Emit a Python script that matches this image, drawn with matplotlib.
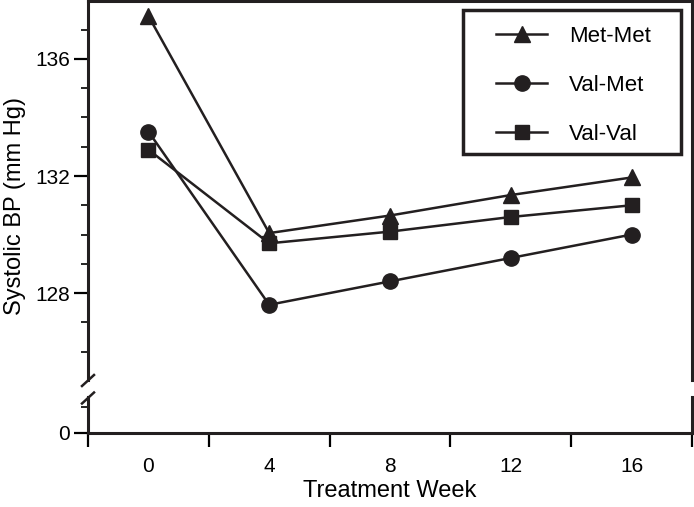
import matplotlib
matplotlib.use('Agg')
from matplotlib import pyplot as plt
from matplotlib.lines import Line2D
from matplotlib.patches import Rectangle

plt.rcParams['font.family'] = ['Liberation Sans', 'DejaVu Sans']

weeks = [0, 4, 8, 12, 16]
met_met = [137.47, 130.05, 130.65, 131.35, 131.95]
val_met = [133.52, 127.60, 128.40, 129.20, 130.00]
val_val = [132.90, 129.70, 130.10, 130.60, 131.00]

W, H = 694, 507
fig = plt.figure(figsize=(W / 100, H / 100), dpi=100)

def px_axes(left, top, right, bottom):
    return fig.add_axes([left / W, 1 - bottom / H, (right - left) / W, (bottom - top) / H])

ax = px_axes(88, 1, 692, 380)      # upper part of the broken axis
ax0 = px_axes(88, 397, 692, 433)   # lower part with the 0

lw = 2.2
for a in (ax, ax0):
    for s in a.spines.values():
        s.set_linewidth(lw)
        s.set_color('#231f20')
    a.set_xlim(-2, 18)
    a.patch.set_alpha(0)
ax.spines['bottom'].set_visible(False)
ax0.spines['top'].set_visible(False)

# data
ax.plot(weeks, met_met, color='#231f20', lw=1.8, marker='^', ms=11, label='Met-Met')
ax.plot(weeks, val_met, color='#231f20', lw=1.8, marker='o', ms=11, label='Val-Met')
ax.plot(weeks, val_val, color='#231f20', lw=1.8, marker='s', ms=10, label='Val-Val')

ax.set_ylim(125.03, 137.98)
ax.set_yticks([128, 132, 136])
ax.set_yticks([126, 127, 129, 130, 131, 133, 134, 135, 137], minor=True)
ax.tick_params(axis='y', which='major', length=10, width=1.6, pad=3, labelsize=15, direction='out')
ax.tick_params(axis='y', which='minor', length=5, width=1.2, direction='out')
ax.tick_params(axis='x', which='both', bottom=False, labelbottom=False)

ax0.set_ylim(0, 36 / 29.25)
ax0.set_yticks([0])
ax0.set_yticks([0.89], minor=True)
ax0.tick_params(axis='y', which='major', length=10, width=1.6, pad=3, labelsize=15)
ax0.tick_params(axis='y', which='minor', length=5, width=1.2)
ax0.set_xticks([-2, 2, 6, 10, 14, 18])
ax0.set_xticklabels([])
ax0.set_xticks(weeks, minor=True)
ax0.set_xticklabels([str(w) for w in weeks], minor=True)
ax0.tick_params(axis='x', which='major', length=10, width=1.6, direction='out')
ax0.tick_params(axis='x', which='minor', length=0, pad=17, labelsize=15)

ax0.set_xlabel('Treatment Week', fontsize=17, labelpad=3)
fig.text(15 / W, 1 - 206 / H, 'Systolic BP (mm Hg)', rotation=90, fontsize=17,
         ha='center', va='center')

# break marks on the left spine
for cy in (380.5, 398):
    fig.add_artist(Line2D([82 / W, 94 / W], [1 - (cy + 5.5) / H, 1 - (cy - 5.5) / H],
                          transform=fig.transFigure, color='#231f20', lw=1.8))

# legend entries without frame, box drawn separately
leg = ax.legend(loc='upper left', bbox_to_anchor=(496 / W, 1 - 26 / H),
                bbox_transform=fig.transFigure, fontsize=16, frameon=False,
                handlelength=2.3, handletextpad=1.0, labelspacing=1.25,
                borderpad=0, borderaxespad=0)
fig.add_artist(Rectangle((463 / W, 1 - 154 / H), (681 - 463) / W, (154 - 10) / H,
                         transform=fig.transFigure, fill=False,
                         edgecolor='#231f20', lw=2.5))

fig.savefig('out.png', dpi=100)
